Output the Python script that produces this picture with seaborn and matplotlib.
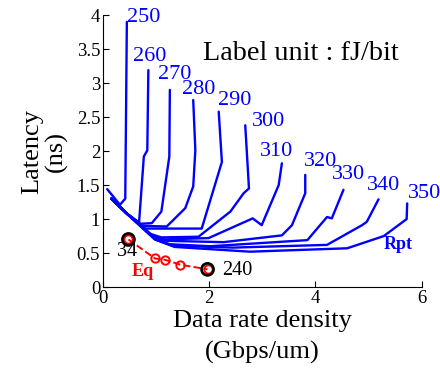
import matplotlib
matplotlib.use("Agg")
import matplotlib.pyplot as plt
import seaborn as sns
import pandas as pd

# ---- data ----
energy_labels = ["250", "260", "270", "280", "290", "300", "310", "320", "330", "340", "350"]

front = [(0.16, 1.30), (0.45, 1.08)]
curve_250 = [(0.08, 1.44), (0.32, 1.21), (0.42, 1.30), (0.45, 3.90)]
curve_260 = front + [(0.68, 0.95), (0.77, 1.92), (0.835, 2.01), (0.855, 3.19)]
curve_270 = front + [(0.70, 0.93), (0.92, 0.94), (1.10, 1.11), (1.25, 1.92), (1.26, 2.90)]
curve_280 = front + [(0.75, 0.90), (1.20, 0.89), (1.55, 1.16), (1.70, 1.48), (1.74, 2.01), (1.70, 2.75)]
curve_290 = front + [(0.80, 0.86), (1.86, 0.86), (2.24, 1.84), (2.18, 2.58)]
curve_300 = front + [(0.90, 0.78), (1.10, 0.73), (1.80, 0.74), (2.40, 1.11), (2.65, 1.38), (2.75, 1.45), (2.68, 2.38)]
curve_310 = front + [(0.92, 0.76), (1.15, 0.70), (1.99, 0.72), (2.82, 1.01), (2.99, 0.91), (3.31, 1.50), (3.37, 1.82)]
curve_320 = front + [(0.94, 0.74), (1.20, 0.68), (2.27, 0.66), (3.37, 0.76), (3.56, 0.91), (3.81, 1.38), (3.81, 1.65)]
curve_330 = front + [(0.96, 0.72), (1.25, 0.63), (2.02, 0.60), (3.85, 0.69), (4.22, 1.03), (4.31, 1.01), (4.53, 1.43)]
curve_340 = front + [(0.98, 0.70), (1.30, 0.61), (2.45, 0.58), (4.22, 0.62), (4.88, 0.91), (4.97, 0.96), (5.19, 1.29)]
curve_350 = front + [(0.98, 0.70), (1.35, 0.59), (2.77, 0.52), (4.60, 0.57), (5.29, 0.75), (5.72, 1.00), (5.73, 1.23)]
curves = [curve_250, curve_260, curve_270, curve_280, curve_290, curve_300,
          curve_310, curve_320, curve_330, curve_340, curve_350]

label_x = [0.45, 0.56, 1.04, 1.49, 2.17, 2.81, 2.96, 3.78, 4.32, 4.98, 5.75]
label_y = [3.97, 3.39, 3.13, 2.90, 2.75, 2.43, 2.00, 1.84, 1.65, 1.50, 1.38]

eq_x = [0.48, 0.98, 1.17, 1.45, 1.97]
eq_y = [0.70, 0.42, 0.40, 0.33, 0.26]
eq_end_labels = ["34", "240"]

x_ticks = [0, 2, 4, 6]
y_ticks = [0, 0.5, 1, 1.5, 2, 2.5, 3, 3.5, 4]
y_tick_labels = ["0", "0.5", "1", "1.5", "2", "2.5", "3", "3.5", "4"]

# ---- build long table ----
rows = []
for lab, pts in zip(energy_labels, curves):
    for i, (x, y) in enumerate(pts):
        rows.append({"curve": lab, "order": i, "x": x, "y": y})
df = pd.DataFrame(rows)
eq_df = pd.DataFrame({"x": eq_x, "y": eq_y})

sns.set_theme(style="white")
plt.rcParams["font.family"] = ["Liberation Serif", "DejaVu Serif"]

fig = plt.figure(figsize=(4.4, 3.68), dpi=100)
ax = fig.add_axes([0.234, 0.220, 0.724, 0.739])

sns.lineplot(data=df, x="x", y="y", units="curve", estimator=None, sort=False,
             color="#0000ff", linewidth=1.7, ax=ax, legend=False)

sns.lineplot(data=eq_df, x="x", y="y", sort=False, estimator=None, color="red",
             linestyle="--", linewidth=1.4, marker="o", markersize=6,
             markerfacecolor="none", markeredgecolor="red", markeredgewidth=1.4,
             ax=ax, legend=False)
ends = eq_df.iloc[[0, -1]]
sns.scatterplot(data=ends, x="x", y="y", s=75, facecolor="none", edgecolor="black",
                linewidth=1.9, ax=ax, legend=False, zorder=5)

for lab, lx, ly in zip(energy_labels, label_x, label_y):
    ax.text(lx, ly, lab, color="#0000ff", fontsize=16, ha="left", va="center")

ax.text(1.88, 3.44, "Label unit : fJ/bit", color="black", fontsize=20.3, ha="left", va="center")
ax.text(5.28, 0.62, "Rpt", color="#0000ff", fontsize=13, fontweight="bold", ha="left", va="center")
ax.text(0.54, 0.235, "Eq", color="red", fontsize=13, fontweight="bold", ha="left", va="center")
ax.text(0.46, 0.53, eq_end_labels[0], color="black", fontsize=14.5, ha="center", va="center")
ax.text(2.24, 0.25, eq_end_labels[1], color="black", fontsize=14.5, ha="left", va="center")

ax.set_xlim(0, 6)
ax.set_ylim(0, 4)
ax.set_xticks(x_ticks)
ax.set_xticklabels([str(t) for t in x_ticks])
ax.set_yticks(y_ticks)
ax.set_yticklabels(y_tick_labels)
ax.tick_params(direction="in", length=4, width=0.8, labelsize=13.5, colors="black",
               bottom=True, left=True, pad=2)
for side in ["top", "right"]:
    ax.spines[side].set_visible(False)
for side in ["left", "bottom"]:
    ax.spines[side].set_color("black")
    ax.spines[side].set_linewidth(0.8)
ax.grid(False)
ax.set_facecolor("white")

ax.set_xlabel("Data rate density\n(Gbps/um)", fontsize=19, color="black", labelpad=2,
              linespacing=1.5)
ax.set_ylabel("Latency\n(ns)", fontsize=19, color="black", labelpad=6, linespacing=1.1)

fig.savefig("out.png", dpi=100, facecolor="white")
